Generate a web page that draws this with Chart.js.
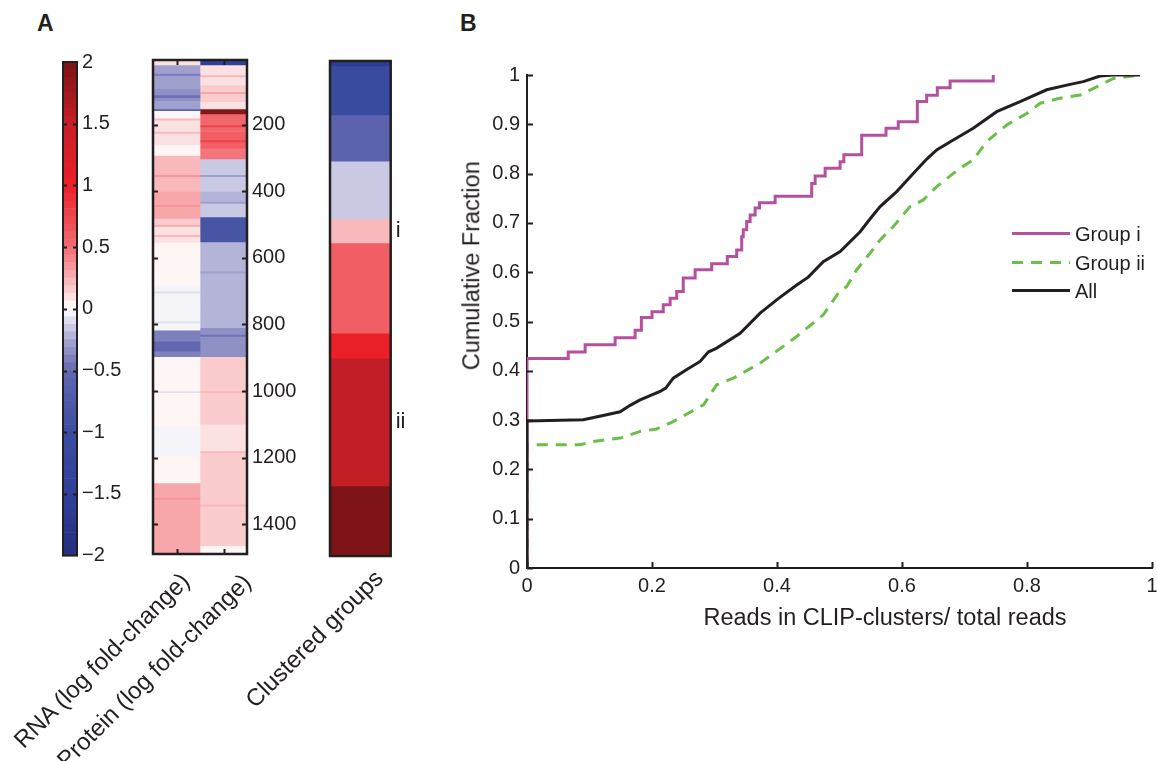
<!DOCTYPE html>
<html>
<head>
<meta charset="utf-8">
<script src="https://cdn.jsdelivr.net/npm/chart.js@4.4.1/dist/chart.umd.min.js"></script>
<style>
  body { margin: 0; width: 1157px; height: 761px; overflow: hidden; position: relative; background: #fff;
         font-family: "Liberation Sans", Arial, Helvetica, sans-serif; color: #231f20; }
  canvas { position: absolute; }
  .txt { position: absolute; white-space: nowrap; line-height: 1; }
  .rot { position: absolute; white-space: nowrap; line-height: 1; font-size: 24px;
         transform-origin: 100% 50%; transform: rotate(-45deg); }
</style>
</head>
<body>
<div class="txt" style="left:37px; top:12px; font-size:23px; font-weight:bold;">A</div>
<div class="txt" style="left:460px; top:12px; font-size:23px; font-weight:bold;">B</div>

<canvas id="cbar" width="80" height="520" style="left:50px; top:50px;"></canvas>
<canvas id="heat" width="165" height="520" style="left:140px; top:50px;"></canvas>
<canvas id="groups" width="90" height="520" style="left:320px; top:50px;"></canvas>
<canvas id="cdf" width="702" height="581" style="left:455px; top:55px;"></canvas>

<div class="rot" style="right:972px; top:565px;">RNA (log fold-change)</div>
<div class="rot" style="right:910px; top:566px;">Protein (log fold-change)</div>
<div class="rot" style="right:778px; top:562px;">Clustered groups</div>

<div class="txt" style="left:885px; top:606px; font-size:23.5px; transform:translateX(-50%);">Reads in CLIP-clusters/ total reads</div>
<div class="txt" style="left:472px; top:254px; font-size:23.5px; transform:translate(-50%,0) rotate(-90deg);">Cumulative Fraction</div>

<svg style="position:absolute; left:1005px; top:220px;" width="70" height="85">
  <line x1="7" y1="13.5" x2="65" y2="13.5" stroke="#b5509f" stroke-width="3"/>
  <line x1="7" y1="42.5" x2="65" y2="42.5" stroke="#6abf4b" stroke-width="3" stroke-dasharray="11 8"/>
  <line x1="7" y1="70.5" x2="65" y2="70.5" stroke="#231f20" stroke-width="3"/>
</svg>
<div class="txt" style="left:1075px; top:224px; font-size:20px;">Group i</div>
<div class="txt" style="left:1075px; top:253px; font-size:20px;">Group ii</div>
<div class="txt" style="left:1075px; top:281px; font-size:20px;">All</div>

<script>
const FONT = '"Liberation Sans", Arial, Helvetica, sans-serif';
const INK = '#231f20';
const PINK = '#b5509f';
const GREEN = '#6abf4b';

// ---- panel A: colour scale ----
const cbarTicks = [-2, -1.5, -1, -0.5, 0, 0.5, 1, 1.5, 2];
const cbarTickLabels = ['\u22122', '\u22121.5', '\u22121', '\u22120.5', '0', '0.5', '1', '1.5', '2'];
const cbarLevels = 64;
const cmapStops = [
  [-2, '#262f80'], [-1.5, '#30409a'], [-1, '#3b4da0'], [-0.5, '#6368b1'], [-0.25, '#a9a8d2'],
  [0, '#ffffff'], [0.25, '#f8aeb1'], [0.5, '#f26c72'], [1, '#ed1f27'], [1.5, '#c71f26'], [2, '#7a1315']
];

// ---- panel A: heatmap rows (row index edges, log fold-change per block) ----
const heatColumns = ['RNA', 'Protein'];
const rnaRowEdges = [7, 20, 45, 52, 91, 110, 118, 127, 152, 157, 180, 186, 220, 226, 260, 292, 350, 356, 400, 440, 446, 481,
  500, 505, 530, 536, 553, 682, 700, 705, 742, 790, 795, 817, 850, 880, 897, 1000, 1005, 1106, 1196, 1276, 1320, 1326, 1380, 1400, 1488];
const rnaValues = [0.12, -0.3, -0.4, -0.28, -0.34, -0.45, -0.33, -0.3, -0.6, 0.06, 0.2, 0.08, 0.22, 0.1, 0.04, 0.24, 0.32, 0.24, 0.28, 0.35, 0.27,
  0.15, 0.25, 0.12, 0.22, 0.1, 0.0, -0.05, -0.12, -0.04, -0.04, -0.1, -0.03, -0.42, -0.52, -0.4, 0.01, -0.08, 0.01, -0.04, 0.01, 0.27, 0.33, 0.27, 0.3, 0.28];
const proteinRowEdges = [7, 20, 50, 56, 80, 100, 106, 130, 152, 167, 200, 206, 220, 245, 251, 270, 302, 350, 356, 400, 430, 436, 477, 552,
  640, 646, 742, 810, 830, 836, 897, 1000, 1006, 1100, 1180, 1186, 1276, 1340, 1346, 1465, 1488];
const proteinValues = [-1.5, 0.12, 0.22, 0.1, 0.17, 0.25, 0.14, 0.1, 1.9, 0.5, 0.75, 0.55, 0.6, 0.8, 0.58, 0.48, -0.17, -0.28, -0.15, -0.22, -0.3, -0.18, -0.85,
  -0.2, -0.3, -0.2, -0.25, -0.35, -0.5, -0.33, 0.14, 0.22, 0.15, 0.12, 0.2, 0.13, 0.15, 0.23, 0.14, 0.04];
const heatTicks = [200, 400, 600, 800, 1000, 1200, 1400];

// ---- panel A: clustered groups ----
const groupRowEdges = [0, 15, 150, 162, 301, 475, 547, 818, 893, 1277, 1488];
const groupValues = [-1.6, -1.1, -1.05, -0.6, -0.18, 0.23, 0.58, 1.0, 1.55, 1.98];
const groupMarks = ['', '', '', '', '', 'i', '', '', 'ii', ''];

// ---- panel B: cumulative fractions ----
const cdfXTicks = [0, 0.2, 0.4, 0.6, 0.8, 1];
const cdfXTickLabels = ['0', '0.2', '0.4', '0.6', '0.8', '1'];
const cdfYTicks = [0, 0.1, 0.2, 0.3, 0.4, 0.5, 0.6, 0.7, 0.8, 0.9, 1];
const cdfYTickLabels = ['0', '0.1', '0.2', '0.3', '0.4', '0.5', '0.6', '0.7', '0.8', '0.9', '1'];

const groupIX = [0, 0, 0.066, 0.093, 0.141, 0.173, 0.183, 0.2, 0.218, 0.229, 0.2395, 0.25, 0.269, 0.2955, 0.3205, 0.3355, 0.3435, 0.346, 0.3515, 0.357, 0.365, 0.372, 0.397, 0.4555, 0.461, 0.477, 0.501, 0.507, 0.5355, 0.5744, 0.594, 0.6245, 0.6395, 0.6565, 0.677, 0.746];
const groupIY = [0, 0.425, 0.438, 0.453, 0.467, 0.482, 0.508, 0.52, 0.534, 0.547, 0.561, 0.588, 0.605, 0.617, 0.632, 0.645, 0.672, 0.686, 0.703, 0.716, 0.73, 0.741, 0.754, 0.78, 0.795, 0.811, 0.824, 0.838, 0.878, 0.892, 0.905, 0.946, 0.959, 0.974, 0.988, 1.0];

const groupIIX = [0, 0, 0.085, 0.106, 0.149, 0.181, 0.2075, 0.234, 0.2825, 0.3035, 0.33, 0.373, 0.405, 0.4315, 0.474, 0.498, 0.5115, 0.5275, 0.549, 0.565, 0.586, 0.6128, 0.634, 0.6555, 0.6928, 0.714, 0.7355, 0.7675, 0.7995, 0.821, 0.853, 0.885, 0.9115, 0.938, 0.981];
const groupIIY = [0, 0.25, 0.25, 0.2567, 0.2635, 0.277, 0.282, 0.297, 0.331, 0.3716, 0.385, 0.4156, 0.445, 0.4695, 0.5135, 0.5575, 0.571, 0.605, 0.6386, 0.6655, 0.6925, 0.733, 0.7466, 0.7736, 0.811, 0.8277, 0.865, 0.8986, 0.922, 0.9427, 0.953, 0.9595, 0.976, 0.993, 1.0];

const allX = [0, 0, 0.09, 0.12, 0.149, 0.165, 0.181, 0.213, 0.222, 0.234, 0.255, 0.277, 0.29, 0.3035, 0.341, 0.373, 0.4015, 0.4315, 0.45, 0.474, 0.501, 0.533, 0.55, 0.565, 0.5915, 0.618, 0.64, 0.6555, 0.682, 0.714, 0.7515, 0.789, 0.8315, 0.869, 0.89, 0.917, 0.938, 0.981];
const allY = [0, 0.298, 0.3006, 0.309, 0.317, 0.33, 0.341, 0.358, 0.365, 0.385, 0.402, 0.419, 0.438, 0.446, 0.476, 0.517, 0.546, 0.574, 0.59, 0.6215, 0.642, 0.682, 0.71, 0.733, 0.7635, 0.8, 0.83, 0.848, 0.868, 0.892, 0.9256, 0.946, 0.97, 0.981, 0.9865, 0.998, 1.0, 1.0];

// colour map, quantised like the colour bar
function hex2rgb(h) { return [1, 3, 5].map(i => parseInt(h.substr(i, 2), 16)); }
function cmap(v) {
  const step = 4 / cbarLevels;
  const i = Math.max(0, Math.min(cbarLevels - 1, Math.floor((v + 2) / step)));
  const c = -2 + (i + 0.5) * step;
  for (let k = 0; k < cmapStops.length - 1; k++) {
    const [v0, h0] = cmapStops[k], [v1, h1] = cmapStops[k + 1];
    if (c <= v1) {
      const t = (c - v0) / (v1 - v0), a = hex2rgb(h0), b = hex2rgb(h1);
      return 'rgb(' + a.map((x, j) => Math.round(x + (b[j] - x) * t)).join(',') + ')';
    }
  }
  return cmapStops[cmapStops.length - 1][1];
}

// one floating bar dataset per block of rows
function blockSets(col, nCols, edges, values) {
  return values.map((v, k) => ({
    data: Array.from({ length: nCols }, (_, j) => j === col ? [edges[k], edges[k + 1]] : null),
    backgroundColor: cmap(v)
  }));
}

function frame(opts) {
  return {
    id: 'frame',
    afterDraw(chart) {
      const { ctx, chartArea: a } = chart;
      ctx.save();
      ctx.strokeStyle = INK;
      ctx.lineWidth = 2;
      (opts.yTicks || []).forEach(v => {
        const y = Math.round(chart.scales.y.getPixelForValue(v)) + 0.5;
        ctx.beginPath();
        ctx.moveTo(a.left, y); ctx.lineTo(a.left + opts.len, y);
        ctx.moveTo(a.right - opts.len, y); ctx.lineTo(a.right, y);
        ctx.stroke();
      });
      (opts.xTicks || []).forEach(j => {
        const x = Math.round(chart.scales.x.getPixelForValue(j)) + 0.5;
        ctx.beginPath();
        ctx.moveTo(x, a.top); ctx.lineTo(x, a.top + opts.len);
        ctx.moveTo(x, a.bottom - opts.len); ctx.lineTo(x, a.bottom);
        ctx.stroke();
      });
      ctx.lineWidth = opts.lw;
      ctx.strokeRect(a.left, a.top, a.right - a.left, a.bottom - a.top);
      if (opts.marks) {
        ctx.fillStyle = INK;
        ctx.font = '22px ' + FONT;
        ctx.textBaseline = 'middle';
        opts.marks.forEach((m, k) => {
          if (!m) return;
          const y = chart.scales.y.getPixelForValue((groupRowEdges[k] + groupRowEdges[k + 1]) / 2);
          ctx.fillText(m, a.right + 5, y);
        });
      }
      ctx.restore();
    }
  };
}

function columnOptions(pad, y) {
  return {
    responsive: false,
    animation: false,
    layout: { padding: pad },
    datasets: { bar: { grouped: false, barPercentage: 1, categoryPercentage: 1, borderWidth: 0 } },
    plugins: { legend: { display: false }, tooltip: { enabled: false } },
    scales: { x: { display: false }, y: y }
  };
}

function fixWidth(w) {
  return s => { s.width = w; s.paddingTop = 0; s.paddingBottom = 0; };
}

const tickFont = { family: FONT, size: 20 };

// colour bar
const cbarStep = 4 / cbarLevels;
const cbarEdges = Array.from({ length: cbarLevels + 1 }, (_, i) => -2 + i * cbarStep);
const cbarMids = cbarEdges.slice(0, -1).map(e => e + cbarStep / 2);
new Chart(document.getElementById('cbar'), {
  type: 'bar',
  data: { labels: ['scale'], datasets: blockSets(0, 1, cbarEdges, cbarMids) },
  options: columnOptions({ left: 13, top: 12, bottom: 14.4 }, {
    position: 'right', min: -2, max: 2,
    grid: { display: false, drawTicks: false }, border: { display: false },
    afterBuildTicks: s => { s.ticks = cbarTicks.map(v => ({ value: v })); },
    afterFit: fixWidth(53),
    ticks: { autoSkip: false, padding: 5, color: INK, font: tickFont,
             callback: (v, i) => cbarTickLabels[i] }
  }),
  plugins: [frame({ lw: 2, len: 4, yTicks: cbarTicks.slice(1, -1) })]
});

// heatmap
new Chart(document.getElementById('heat'), {
  type: 'bar',
  data: {
    labels: heatColumns,
    datasets: blockSets(0, 2, rnaRowEdges, rnaValues).concat(blockSets(1, 2, proteinRowEdges, proteinValues))
  },
  options: columnOptions({ left: 13, top: 10, bottom: 16 }, {
    position: 'right', reverse: true, min: 5, max: 1490,
    grid: { display: false, drawTicks: false }, border: { display: false },
    afterBuildTicks: s => { s.ticks = heatTicks.map(v => ({ value: v })); },
    afterFit: fixWidth(58),
    ticks: { autoSkip: false, padding: 5, color: INK, font: tickFont,
             callback: v => String(v) }
  }),
  plugins: [frame({ lw: 2.5, len: 5, yTicks: heatTicks, xTicks: [0, 1] })]
});

// clustered groups
new Chart(document.getElementById('groups'), {
  type: 'bar',
  data: { labels: ['groups'], datasets: blockSets(0, 1, groupRowEdges, groupValues) },
  options: columnOptions({ left: 10, right: 19.3, top: 11, bottom: 14 }, {
    display: false, reverse: true, min: 0, max: 1488
  }),
  plugins: [frame({ lw: 2.5, len: 0, marks: groupMarks })]
});

// panel B
const pts = (xs, ys) => xs.map((x, i) => ({ x: x, y: ys[i] }));
new Chart(document.getElementById('cdf'), {
  type: 'line',
  data: {
    datasets: [
      { label: 'Group i', data: pts(groupIX, groupIY), borderColor: PINK, stepped: true, order: 2 },
      { label: 'Group ii', data: pts(groupIIX, groupIIY), borderColor: GREEN, borderDash: [11, 8], order: 3 },
      { label: 'All', data: pts(allX, allY), borderColor: INK, order: 1 }
    ]
  },
  options: {
    responsive: false,
    animation: false,
    layout: { padding: { top: 20, right: 5 } },
    elements: { point: { radius: 0 }, line: { borderWidth: 3, tension: 0, fill: false } },
    plugins: { legend: { display: false }, tooltip: { enabled: false } },
    scales: {
      x: {
        type: 'linear', min: 0, max: 1,
        grid: { display: false, drawTicks: false }, border: { color: INK, width: 2 },
        afterBuildTicks: s => { s.ticks = cdfXTicks.map(v => ({ value: v })); },
        afterFit: s => { s.height = 68; s.paddingLeft = 0; s.paddingRight = 0; },
        ticks: { autoSkip: false, maxRotation: 0, padding: 6, color: INK, font: tickFont,
                 callback: (v, i) => cdfXTickLabels[i] }
      },
      y: {
        type: 'linear', min: 0, max: 1,
        grid: { display: false, drawTicks: false }, border: { color: INK, width: 2 },
        afterBuildTicks: s => { s.ticks = cdfYTicks.map(v => ({ value: v })); },
        afterFit: s => { s.width = 72; s.paddingTop = 0; s.paddingBottom = 0; },
        ticks: { autoSkip: false, padding: 7, color: INK, font: tickFont,
                 callback: (v, i) => cdfYTickLabels[i] }
      }
    }
  },
  plugins: [{
    id: 'inwardTicks',
    afterDraw(chart) {
      const { ctx, chartArea: a, scales } = chart;
      ctx.save();
      ctx.strokeStyle = INK;
      ctx.lineWidth = 2;
      cdfYTicks.forEach(v => {
        const y = Math.round(scales.y.getPixelForValue(v)) + 0.5;
        ctx.beginPath(); ctx.moveTo(a.left, y); ctx.lineTo(a.left + 6, y); ctx.stroke();
      });
      cdfXTicks.forEach(v => {
        const x = Math.round(scales.x.getPixelForValue(v)) + 0.5;
        ctx.beginPath(); ctx.moveTo(x, a.bottom); ctx.lineTo(x, a.bottom - 6); ctx.stroke();
      });
      ctx.restore();
    }
  }]
});
</script>
</body>
</html>
